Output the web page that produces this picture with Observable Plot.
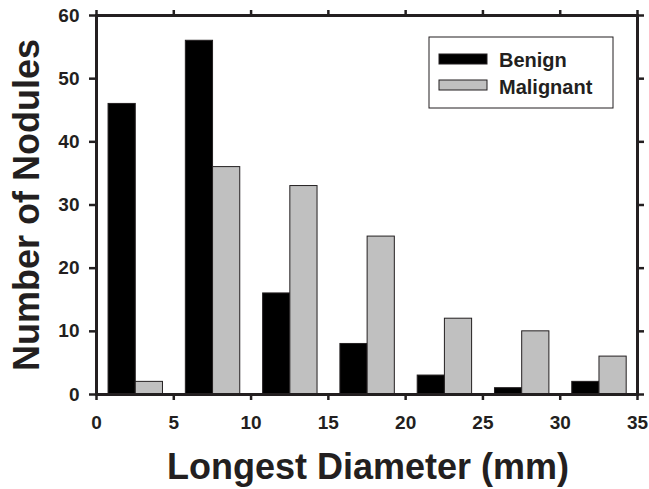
<!DOCTYPE html>
<html><head><meta charset="utf-8">
<script src="https://cdn.jsdelivr.net/npm/d3@7"></script>
<script src="https://cdn.jsdelivr.net/npm/@observablehq/plot@0.6"></script>
<style>
body{margin:0;background:#fff;}
svg{font-family:"Liberation Sans",Arial,sans-serif;}
</style></head>
<body><div id="chart"></div>
<script>
const binStarts = [0, 5, 10, 15, 20, 25, 30];
const benign = [46, 56, 16, 8, 3, 1, 2];
const malignant = [2, 36, 33, 25, 12, 10, 6];
const seriesNames = ["Benign", "Malignant"];
const seriesColors = ["#000000", "#c0c0c0"];
const xTicks = [0, 5, 10, 15, 20, 25, 30, 35];
const yTicks = [0, 10, 20, 30, 40, 50, 60];

const rows = [];
binStarts.forEach((b, i) => {
  rows.push({series: "Benign", x1: b + 0.78, x2: b + 2.54, v: benign[i]});
  rows.push({series: "Malignant", x1: b + 2.54, x2: b + 4.3, v: malignant[i]});
});

const ink = "#231f20";
const plot = Plot.plot({
  width: 649, height: 489,
  marginLeft: 96, marginRight: 12, marginTop: 15, marginBottom: 95,
  style: {fontFamily: "Liberation Sans, Arial, sans-serif", color: ink, background: "#fff"},
  x: {domain: [0, 35]},
  y: {domain: [0, 60]},
  color: {domain: seriesNames, range: seriesColors},
  marks: [
    Plot.rectY(rows, {x1: "x1", x2: "x2", y1: 0, y2: "v", fill: "series", stroke: ink, strokeWidth: 1}),
    Plot.axisX({anchor: "bottom", ticks: xTicks, tickSize: 6, strokeWidth: 2.5, tickFormat: () => "", label: null}),
    Plot.axisX({anchor: "top", ticks: xTicks, tickSize: 6, strokeWidth: 2.5, tickFormat: () => "", label: null}),
    Plot.axisY({anchor: "left", ticks: yTicks, tickSize: 7, strokeWidth: 2.5, tickFormat: () => "", label: null}),
    Plot.axisY({anchor: "right", ticks: yTicks, tickSize: 6, strokeWidth: 2.5, tickFormat: () => "", label: null}),
    Plot.text(xTicks, {x: d => d, frameAnchor: "bottom", lineAnchor: "top", dy: 21, text: d => String(d),
      fontSize: 19, fontWeight: "bold", fill: ink}),
    Plot.text(yTicks, {y: d => d, frameAnchor: "left", textAnchor: "end", dx: -17, text: d => String(d),
      fontSize: 19, fontWeight: "bold", fill: ink}),
    Plot.frame({stroke: ink, strokeWidth: 3})
  ]
});
document.getElementById("chart").appendChild(plot);

const svg = d3.select(plot);

svg.append("text").attr("x", 368).attr("y", 479).attr("text-anchor", "middle")
  .style("font-size", "36px").attr("font-weight", "bold").attr("fill", ink)
  .text("Longest Diameter (mm)");
svg.append("text").attr("transform", "translate(39,205) rotate(-90)").attr("text-anchor", "middle")
  .style("font-size", "36px").attr("font-weight", "bold").attr("fill", ink)
  .text("Number of Nodules");

const lg = svg.append("g");
lg.append("rect").attr("x", 429).attr("y", 37).attr("width", 184).attr("height", 71)
  .attr("fill", "#fff").attr("stroke", ink).attr("stroke-width", 1);
seriesNames.forEach((name, i) => {
  const y = 54 + i * 26;
  lg.append("rect").attr("x", 439).attr("y", y).attr("width", 48).attr("height", 10)
    .attr("fill", seriesColors[i]).attr("stroke", ink).attr("stroke-width", 1);
  lg.append("text").attr("x", 499).attr("y", 67 + i * 26.5).attr("text-anchor", "start")
    .style("font-size", "20px").attr("font-weight", "bold")
    .attr("fill", ink).text(name);
});
</script></body></html>
